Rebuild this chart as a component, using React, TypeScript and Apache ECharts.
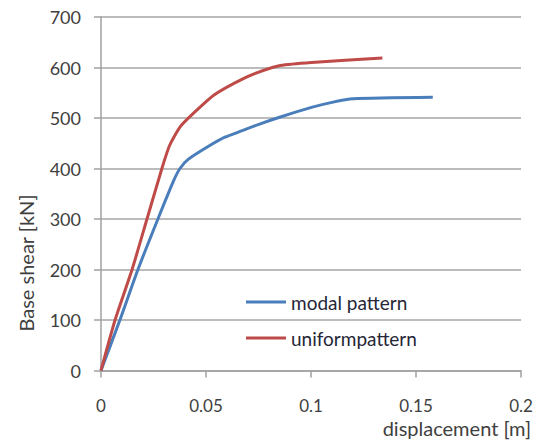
import React, { useEffect, useRef } from "react";
import * as echarts from "echarts";

const modalDisp = [0, 0.009, 0.0176, 0.0271, 0.0345, 0.0376, 0.0415, 0.0508, 0.059, 0.0673, 0.0755, 0.0854, 0.1002, 0.11, 0.12, 0.158];
const modalShear = [0, 100, 200, 300, 375, 400, 418, 443, 462, 475, 488, 502, 521, 531, 538, 541];
const uniformDisp = [0, 0.0067, 0.0148, 0.0219, 0.029, 0.0326, 0.0376, 0.0442, 0.054, 0.0673, 0.0772, 0.0854, 0.1002, 0.134];
const uniformShear = [0, 100, 200, 300, 400, 445, 482, 510, 546, 577, 594, 604, 610, 619];
const seriesNames = ["modal pattern", "uniformpattern"];
const xTicks = [0, 0.05, 0.1, 0.15, 0.2];
const yTicks = [0, 100, 200, 300, 400, 500, 600, 700];

const FONT = "Lato, 'Open Sans', sans-serif";
const TXT = "#404040";

export default function App() {
  const ref = useRef<HTMLDivElement>(null);
  useEffect(() => {
    if (!ref.current) return;
    document.body.style.margin = "0";
    const chart = echarts.init(ref.current, undefined, { renderer: "svg" });
    const pair = (xs: number[], ys: number[]) => xs.map((x, i) => [x, ys[i]]);
    chart.setOption({
      animation: false,
      textStyle: { fontFamily: FONT },
      grid: { left: 101, top: 17, right: 23, bottom: 70.5, containLabel: false },
      legend: {
        show: true,
        left: 241,
        top: 287,
        orient: "vertical",
        itemGap: 16,
        itemWidth: 40,
        itemHeight: 3,
        icon: "rect",
        textStyle: { fontFamily: FONT, fontSize: 19, lineHeight: 20, color: "#262636" },
        data: seriesNames,
      },
      xAxis: {
        type: "value",
        min: xTicks[0],
        max: xTicks[xTicks.length - 1],
        interval: 0.05,
        axisLine: { show: true, onZero: false, lineStyle: { color: "#a0a0a0", width: 1.5 } },
        axisTick: { show: true, length: 7, lineStyle: { color: "#a0a0a0", width: 1.5 } },
        splitLine: { show: false },
        axisLabel: {
          color: TXT,
          fontSize: 17,
          fontFamily: FONT,
          margin: 26,
          formatter: (v: number) => String(+v.toFixed(2)),
        },
      },
      yAxis: {
        type: "value",
        min: yTicks[0],
        max: yTicks[yTicks.length - 1],
        interval: 100,
        axisLine: { show: true, lineStyle: { color: "#a0a0a0", width: 1.5 } },
        axisTick: { show: true, length: 7, lineStyle: { color: "#a0a0a0", width: 1.5 } },
        splitLine: { show: true, lineStyle: { color: "#a6a6a6", width: 1.5 } },
        axisLabel: { color: TXT, fontSize: 18, fontFamily: FONT, margin: 20 },
      },
      graphic: [
        {
          type: "text",
          x: 26,
          y: 263,
          rotation: Math.PI / 2,
          style: {
            text: "Base shear [kN]",
            fontSize: 20,
            fontFamily: FONT,
            fill: TXT,
            align: "center",
            verticalAlign: "middle",
          },
        },
        {
          type: "text",
          x: 531,
          y: 428,
          style: {
            text: "displacement [m]",
            fontSize: 20,
            fontFamily: FONT,
            fill: TXT,
            align: "right",
            verticalAlign: "middle",
          },
        },
      ],
      series: [
        {
          name: seriesNames[0],
          type: "line",
          data: pair(modalDisp, modalShear),
          showSymbol: false,
          smooth: 0.2,
          lineStyle: { color: "#4a7ebb", width: 3 },
          itemStyle: { color: "#4a7ebb" },
        },
        {
          name: seriesNames[1],
          type: "line",
          data: pair(uniformDisp, uniformShear),
          showSymbol: false,
          smooth: 0.2,
          lineStyle: { color: "#be4b48", width: 3 },
          itemStyle: { color: "#be4b48" },
        },
      ],
    });
    return () => chart.dispose();
  }, []);
  return <div ref={ref} style={{ width: 544, height: 441 }} />;
}
